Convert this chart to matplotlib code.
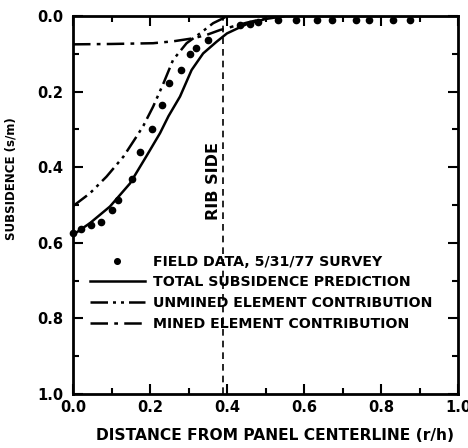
""" subsidence profile: field data vs. element model"""

import matplotlib.pyplot as plt
from matplotlib.ticker import MultipleLocator

# field data, 5/31/77 survey
field_x = [0.0, 0.022, 0.048, 0.072, 0.10, 0.118, 0.152, 0.174, 0.204, 0.23, 0.25,
           0.28, 0.304, 0.32, 0.351, 0.434, 0.46, 0.48, 0.532, 0.58, 0.635, 0.673,
           0.735, 0.77, 0.83, 0.875]
field_s = [0.575, 0.564, 0.553, 0.544, 0.513, 0.487, 0.432, 0.359, 0.299, 0.235, 0.176,
           0.143, 0.10, 0.085, 0.063, 0.024, 0.02, 0.016, 0.011, 0.011, 0.011, 0.011,
           0.011, 0.011, 0.011, 0.011]

# total subsidence prediction
total_x = [0.0, 0.044, 0.096, 0.148, 0.19, 0.226, 0.248, 0.278, 0.308, 0.338, 0.373,
           0.40, 0.45, 0.50, 0.55, 1.0]
total_s = [0.579, 0.548, 0.504, 0.443, 0.372, 0.31, 0.265, 0.213, 0.143, 0.099, 0.068,
           0.046, 0.022, 0.008, 0.0, 0.0]

# unmined element contribution
unmined_x = [0.0, 0.044, 0.087, 0.131, 0.165, 0.183, 0.208, 0.235, 0.26, 0.295, 0.33,
             0.364, 0.39, 0.40]
unmined_s = [0.503, 0.469, 0.425, 0.372, 0.319, 0.29, 0.24, 0.178, 0.116, 0.072, 0.046,
             0.019, 0.006, 0.0]

# mined element contribution
mined_x = [0.0, 0.1, 0.208, 0.26, 0.312, 0.347, 0.382, 0.40, 0.45, 0.50, 0.55]
mined_s = [0.075, 0.074, 0.072, 0.067, 0.059, 0.05, 0.037, 0.032, 0.018, 0.006, 0.0]

rib_x = 0.39

plt.rcParams['font.family'] = 'DejaVu Sans'
plt.rcParams['font.weight'] = 'bold'

fig = plt.figure(figsize=(4.68, 4.48), dpi=100)
ax = fig.add_axes([73 / 468, 1 - 394 / 448, 385 / 468, 378 / 448])

# curves
ax.plot(field_x, field_s, 'o', color='k', ms=4.5, clip_on=False,
        label='FIELD DATA, 5/31/77 SURVEY')
ax.plot(total_x, total_s, '-', color='k', lw=1.8, label='TOTAL SUBSIDENCE PREDICTION')
ax.plot(unmined_x, unmined_s, color='k', lw=1.8, dashes=[7, 2, 1.2, 2, 1.2, 2],
        label='UNMINED ELEMENT CONTRIBUTION')
ax.plot(mined_x, mined_s, color='k', lw=1.8, dashes=[7, 2.5, 1.5, 2.5],
        label='MINED ELEMENT CONTRIBUTION')

# rib side
ax.axvline(rib_x, color='k', lw=1.2, ls=(0, (4, 3)))
ax.text(0.364, 0.437, 'RIB SIDE', rotation=90, ha='center', va='center',
        fontsize=11.5, fontweight='bold')

# axes
ax.set_xlim(0, 1)
ax.set_ylim(1, 0)
ax.xaxis.set_major_locator(MultipleLocator(0.2))
ax.xaxis.set_minor_locator(MultipleLocator(0.1))
ax.yaxis.set_major_locator(MultipleLocator(0.2))
ax.yaxis.set_minor_locator(MultipleLocator(0.1))
ax.xaxis.set_major_formatter(lambda v, p: f'{v:.1f}')
ax.yaxis.set_major_formatter(lambda v, p: f'{v:.1f}')
ax.tick_params(which='both', direction='in', top=True, right=True, width=1.5,
               labelsize=10.5)
ax.tick_params(axis='x', pad=4)
ax.tick_params(axis='y', pad=7)
ax.tick_params(which='major', length=7)
ax.tick_params(which='minor', length=4)
for sp in ax.spines.values():
    sp.set_linewidth(2)

ax.set_xlabel('DISTANCE FROM PANEL CENTERLINE (r/h)', fontsize=11.2, fontweight='bold')
ax.xaxis.set_label_coords(0.525, -0.09)
ax.set_ylabel('SUBSIDENCE (s/m)', fontsize=8.5, fontweight='bold')
ax.yaxis.set_label_coords(-0.145, 0.571)

# legend
ax.legend(loc='upper left', bbox_to_anchor=(0.029, 0.384), frameon=False, fontsize=10.2,
          handlelength=3.9, handletextpad=0.55, labelspacing=0.48, borderaxespad=0,
          markerscale=0.9)

fig.savefig('out.png', dpi=100)
